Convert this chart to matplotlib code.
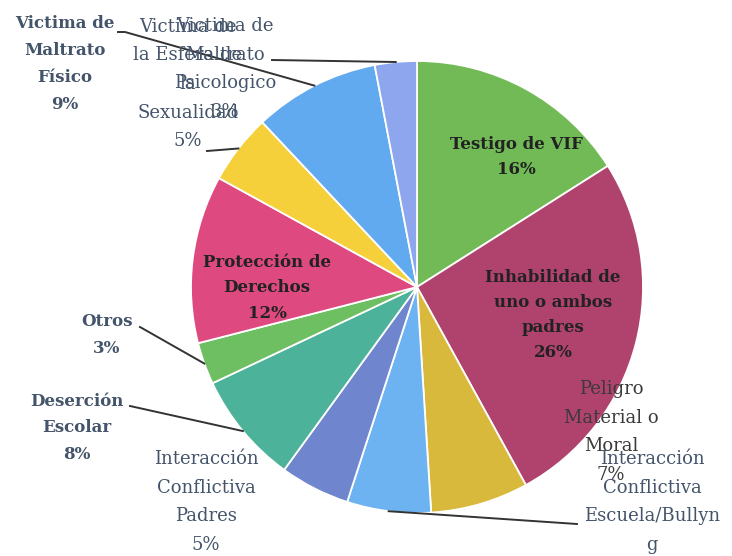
import numpy as np
import matplotlib.pyplot as plt

# Datos del grafico (porcentajes)
categorias = ["Testigo de VIF", "Inhabilidad de uno o ambos padres",
              "Peligro Material o Moral", "Interacción Conflictiva Escuela/Bullyng",
              "Interacción Conflictiva Padres", "Deserción Escolar", "Otros",
              "Protección de Derechos", "Victima de la Esfera de la Sexualidad",
              "Victima de Maltrato Físico", "Victima de Maltrato Psicologico"]
porcentajes = [16, 26, 7, 6, 5, 8, 3, 12, 5, 9, 3]
etiquetas = ["Testigo de VIF\n16%",
             "Inhabilidad de\nuno o ambos\npadres\n26%",
             "Peligro\nMaterial o\nMoral\n7%",
             "Interacción\nConflictiva\nEscuela/Bullyn\ng",
             "Interacción\nConflictiva\nPadres\n5%",
             "Deserción\nEscolar\n8%",
             "Otros\n3%",
             "Protección de\nDerechos\n12%",
             "Victima de\nla Esfera de\nla\nSexualidad\n5%",
             "Victima de\nMaltrato\nFísico\n9%",
             "Victima de\nMaltrato\nPsicologico\n3%"]
colores = ["#72BA56", "#B0426E", "#D8B93C", "#6DB3F2", "#6F86CF", "#4CB299",
           "#6DBF62", "#DE4A7F", "#F6D03A", "#62AAF0", "#8DA6EE"]

# Layout (pixeles de la figura)
W, H = 732, 556
cx, cy, r = 417, 287, 226

def px(x, y):
    return ((x - cx) / r, (cy - y) / r)

# posicion del texto, negrita, color, punto de inicio de la linea guia
pos_texto = [(516, 157), (553, 315), (611, 432), (652, 502), (206, 502),
             (77, 428), (107, 335), (267, 288), (188, 84), (65, 64), (225, 69)]
negrita = [True, True, False, False, False, True, True, True, False, True, False]
dentro = [True, True, False, False, False, False, False, True, False, False, False]
color_txt = ["#222222", "#222222", "#3A3A3A", "#44546A", "#44546A", "#44546A",
             "#44546A", "#222222", "#44546A", "#44546A", "#44546A"]
guias = {3: [(577, 524)], 5: [(130, 406)], 6: [(140, 327)],
         8: [(207, 151)], 9: [(118, 32), (125, 32)], 10: [(272, 60)]}

fig = plt.figure(figsize=(W / 100, H / 100), dpi=100)
ax = fig.add_axes([0, 0, 1, 1])
wedges, _ = ax.pie(porcentajes, colors=colores, startangle=90, counterclock=False,
                   radius=1, wedgeprops=dict(edgecolor="white", linewidth=1.3))
ax.set_xlim(-cx / r, (W - cx) / r)
ax.set_ylim(-(H - cy) / r, cy / r)
ax.set_aspect("equal")
ax.axis("off")

# Lineas guia hacia el punto medio del borde de cada porcion
for i, puntos in guias.items():
    w = wedges[i]
    ang = np.deg2rad((w.theta1 + w.theta2) / 2)
    xs = [px(*p)[0] for p in puntos] + [np.cos(ang)]
    ys = [px(*p)[1] for p in puntos] + [np.sin(ang)]
    ax.plot(xs, ys, color="#333333", lw=1.4, zorder=3)

for i, txt in enumerate(etiquetas):
    x, y = px(*pos_texto[i])
    ax.text(x, y, txt, ha="center", va="center", multialignment="center",
            family="DejaVu Serif", fontsize=12 if negrita[i] else 13,
            fontweight="bold" if negrita[i] else "normal",
            color=color_txt[i], linespacing=1.62 if dentro[i] else 1.75,
            zorder=4)

fig.savefig("out.png", dpi=100)
